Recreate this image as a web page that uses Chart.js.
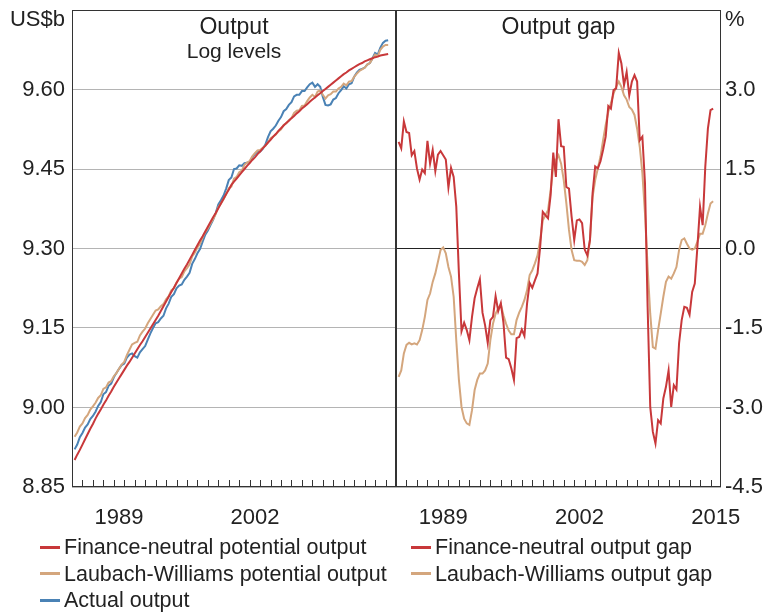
<!DOCTYPE html>
<html>
<head>
<meta charset="utf-8">
<script src="https://cdn.jsdelivr.net/npm/chart.js"></script>
<style>
  body { margin: 0; background: #fff; }
  #wrap { position: relative; width: 767px; height: 612px; font-family: 'Liberation Sans', Arial, Helvetica, sans-serif; color: #222; }
  #leftBox { position: absolute; left: 0; top: 0; }
  #rightBox { position: absolute; left: 390px; top: 0; }
  .legendCol { position: absolute; top: 534px; font-size: 21.5px; line-height: 26.5px; white-space: nowrap; }
  .legendCol span.sw { display: inline-block; width: 20px; height: 3px; margin-right: 4px; vertical-align: middle; position: relative; top: -1px; }
</style>
</head>
<body>
<div id="wrap">
  <div id="leftBox"><canvas id="leftChart" width="398" height="540"></canvas></div>
  <div id="rightBox"><canvas id="rightChart" width="377" height="540"></canvas></div>
  <div class="legendCol" id="legendLeft" style="left:40px"></div>
  <div class="legendCol" id="legendRight" style="left:411px"></div>
</div>
<script>
// quarterly data, 1985Q1 - 2015Q1
const firstYear = 1985, lastYear = 2015, lastQuarter = 1;

const fnPotential = [
  8.901, 8.911, 8.920, 8.930, 8.940, 8.950, 8.960, 8.969, 8.979, 8.988,
  8.996, 9.005, 9.013, 9.022, 9.030, 9.039, 9.047, 9.055, 9.063, 9.071,
  9.079, 9.086, 9.094, 9.102, 9.110, 9.118, 9.125, 9.133, 9.141, 9.149,
  9.157, 9.165, 9.173, 9.182, 9.191, 9.200, 9.209, 9.218, 9.226, 9.235,
  9.244, 9.253, 9.262, 9.270, 9.279, 9.288, 9.297, 9.306, 9.315, 9.323,
  9.332, 9.341, 9.350, 9.359, 9.367, 9.376, 9.385, 9.394, 9.403, 9.411,
  9.420, 9.426, 9.432, 9.438, 9.444, 9.450, 9.456, 9.461, 9.467, 9.472,
  9.478, 9.483, 9.489, 9.494, 9.500, 9.505, 9.511, 9.516, 9.522, 9.527,
  9.532, 9.537, 9.541, 9.546, 9.550, 9.555, 9.559, 9.564, 9.568, 9.572,
  9.577, 9.581, 9.585, 9.589, 9.593, 9.597, 9.601, 9.605, 9.609, 9.613,
  9.617, 9.621, 9.625, 9.629, 9.632, 9.636, 9.639, 9.642, 9.645, 9.648,
  9.650, 9.653, 9.655, 9.657, 9.659, 9.661, 9.662, 9.664, 9.665, 9.666,
  9.667
];

const lwPotential = [
  8.945, 8.953, 8.964, 8.970, 8.980, 8.986, 8.996, 9.002, 9.009, 9.018,
  9.023, 9.035, 9.038, 9.047, 9.050, 9.059, 9.065, 9.073, 9.081, 9.086,
  9.099, 9.109, 9.119, 9.122, 9.124, 9.136, 9.143, 9.149, 9.159, 9.167,
  9.175, 9.183, 9.185, 9.191, 9.195, 9.204, 9.210, 9.221, 9.225, 9.236,
  9.243, 9.246, 9.257, 9.263, 9.270, 9.285, 9.292, 9.302, 9.309, 9.321,
  9.331, 9.338, 9.347, 9.355, 9.365, 9.378, 9.385, 9.393, 9.402, 9.414,
  9.417, 9.432, 9.435, 9.444, 9.447, 9.458, 9.462, 9.465, 9.474, 9.480,
  9.485, 9.486, 9.490, 9.494, 9.500, 9.508, 9.511, 9.515, 9.521, 9.525,
  9.533, 9.536, 9.542, 9.546, 9.556, 9.560, 9.561, 9.569, 9.570, 9.578,
  9.585, 9.590, 9.586, 9.596, 9.598, 9.590, 9.583, 9.589, 9.591, 9.596,
  9.596, 9.602, 9.605, 9.611, 9.608, 9.615, 9.616, 9.624, 9.630, 9.635,
  9.638, 9.641, 9.647, 9.650, 9.658, 9.666, 9.663, 9.675, 9.681, 9.684,
  9.684
];

const actualOutput = [
  8.921, 8.930, 8.944, 8.952, 8.962, 8.968, 8.978, 8.984, 8.992, 9.003,
  9.010, 9.025, 9.029, 9.041, 9.045, 9.057, 9.065, 9.073, 9.080, 9.083,
  9.094, 9.100, 9.102, 9.097, 9.094, 9.104, 9.110, 9.116, 9.128, 9.140,
  9.150, 9.159, 9.161, 9.168, 9.173, 9.187, 9.196, 9.209, 9.214, 9.225,
  9.230, 9.232, 9.241, 9.247, 9.254, 9.271, 9.280, 9.291, 9.299, 9.313,
  9.326, 9.334, 9.344, 9.354, 9.367, 9.383, 9.391, 9.400, 9.413, 9.429,
  9.434, 9.450, 9.451, 9.457, 9.456, 9.461, 9.462, 9.463, 9.472, 9.478,
  9.483, 9.483, 9.488, 9.496, 9.510, 9.521, 9.526, 9.532, 9.541, 9.548,
  9.559, 9.563, 9.571, 9.576, 9.587, 9.590, 9.590, 9.597, 9.597, 9.604,
  9.610, 9.613, 9.605, 9.610, 9.605, 9.586, 9.571, 9.570, 9.572, 9.581,
  9.584, 9.593, 9.599, 9.606, 9.602, 9.610, 9.612, 9.624, 9.632, 9.637,
  9.639, 9.641, 9.647, 9.650, 9.659, 9.669, 9.666, 9.679, 9.688, 9.692,
  9.693
];

const fnGap = [
  2.01, 1.89, 2.40, 2.20, 2.18, 1.76, 1.84, 1.51, 1.30, 1.49,
  1.42, 2.03, 1.60, 1.86, 1.46, 1.77, 1.84, 1.76, 1.68, 1.15,
  1.52, 1.35, 0.79, -0.47, -1.56, -1.40, -1.54, -1.73, -1.29, -0.94,
  -0.75, -0.58, -1.21, -1.45, -1.78, -1.35, -1.29, -0.90, -1.18, -1.03,
  -1.40, -2.06, -2.09, -2.26, -2.48, -1.69, -1.67, -1.53, -1.65, -1.04,
  -0.65, -0.74, -0.60, -0.47, 0.03, 0.69, 0.63, 0.57, 1.01, 1.81,
  1.35, 2.44, 1.93, 1.92, 1.16, 1.13, 0.60, 0.16, 0.53, 0.55,
  0.48, -0.02, -0.13, 0.16, 1.04, 1.55, 1.51, 1.64, 1.86, 2.11,
  2.69, 2.64, 2.99, 3.02, 3.69, 3.49, 3.08, 3.33, 2.89, 3.15,
  3.27, 3.15, 2.04, 2.11, 1.23, -1.10, -2.99, -3.46, -3.68, -3.24,
  -3.30, -2.83, -2.61, -2.30, -2.99, -2.58, -2.66, -1.79, -1.35, -1.10,
  -1.12, -1.25, -0.82, -0.66, 0.03, 0.79, 0.44, 1.54, 2.26, 2.61,
  2.64
];

const lwGap = [
  -2.42, -2.30, -1.98, -1.82, -1.78, -1.81, -1.79, -1.81, -1.73, -1.54,
  -1.29, -0.97, -0.85, -0.63, -0.47, -0.25, -0.03, 0.02, -0.09, -0.35,
  -0.53, -0.91, -1.73, -2.48, -2.99, -3.21, -3.30, -3.33, -3.05, -2.67,
  -2.48, -2.36, -2.36, -2.30, -2.17, -1.73, -1.42, -1.23, -1.13, -1.06,
  -1.26, -1.42, -1.55, -1.62, -1.62, -1.35, -1.21, -1.10, -0.97, -0.79,
  -0.50, -0.41, -0.28, -0.13, 0.16, 0.53, 0.63, 0.72, 1.10, 1.54,
  1.67, 1.76, 1.60, 1.29, 0.85, 0.35, -0.03, -0.22, -0.23, -0.23,
  -0.25, -0.31, -0.22, 0.16, 0.97, 1.29, 1.51, 1.73, 2.04, 2.33,
  2.58, 2.74, 2.92, 3.05, 3.15, 3.05, 2.89, 2.81, 2.67, 2.62,
  2.52, 2.26, 1.92, 1.42, 0.66, -0.35, -1.23, -1.86, -1.89, -1.54,
  -1.23, -0.91, -0.63, -0.53, -0.57, -0.47, -0.35, -0.03, 0.16, 0.19,
  0.09, 0.00, -0.02, 0.00, 0.13, 0.28, 0.28, 0.44, 0.66, 0.85,
  0.89
];

const leftTicks = [8.85, 9.00, 9.15, 9.30, 9.45, 9.60];
const rightTicks = [-4.5, -3.0, -1.5, 0.0, 1.5, 3.0];
const leftYearLabels = [1989, 2002];
const rightYearLabels = [1989, 2002, 2015];

const RED = '#c8383a';
const TAN = '#d4a67d';
const BLUE = '#4a82b5';
const FONT = "'Liberation Sans', Arial, Helvetica, sans-serif";

Chart.defaults.font.family = FONT;
Chart.defaults.color = '#222';

// quarter categories -> decimal year at end of quarter
const quarters = [];
for (let y = firstYear; y <= lastYear; y++) {
  for (let q = 1; q <= 4; q++) {
    if (y === lastYear && q > lastQuarter) break;
    quarters.push({ label: y + 'Q' + q, x: y + q / 4 });
  }
}
const tickYears = [];
for (let y = firstYear + 1; y <= lastYear; y++) tickYears.push(y);

function points(values) {
  return values.map((v, i) => ({ x: quarters[i].x, y: v }));
}

function line(label, color, values) {
  return {
    label: label,
    data: points(values),
    borderColor: color,
    backgroundColor: color,
    borderWidth: 2,
    pointRadius: 0,
    tension: 0,
    fill: false
  };
}

// frame, inward year ticks, panel titles and unit label
const panelDecor = {
  id: 'panelDecor',
  afterDraw(chart, args, opts) {
    const ctx = chart.ctx;
    const a = chart.chartArea;
    const x = chart.scales.x;
    ctx.save();
    ctx.strokeStyle = '#333';
    ctx.lineWidth = 1;
    ctx.beginPath();
    tickYears.forEach(yr => {
      const px = Math.round(x.getPixelForValue(yr)) + 0.5;
      ctx.moveTo(px, a.bottom);
      ctx.lineTo(px, a.bottom - 7);
    });
    ctx.stroke();
    ctx.strokeRect(a.left + 0.5, a.top + 0.5, a.right - a.left - 1, a.bottom - a.top - 1);

    ctx.fillStyle = '#222';
    ctx.textBaseline = 'middle';
    ctx.textAlign = 'center';
    opts.titles.forEach(t => {
      ctx.font = t.size + 'px ' + FONT;
      ctx.fillText(t.text, (a.left + a.right) / 2, t.y);
    });
    ctx.font = '22px ' + FONT;
    ctx.textAlign = opts.unitAlign;
    ctx.fillText(opts.unit, opts.unitX, 20);
    ctx.restore();
  }
};

function xScale(years) {
  return {
    type: 'linear',
    min: firstYear,
    max: lastYear + 1,
    grid: { display: false },
    border: { display: false },
    ticks: {
      font: { size: 22 },
      color: '#222',
      padding: 10,
      maxRotation: 0,
      autoSkip: false,
      callback: v => String(Math.floor(v))
    },
    afterBuildTicks: s => { s.ticks = years.map(y => ({ value: y + 0.5 })); },
    afterFit: s => { s.height = 53; s.paddingLeft = 0; s.paddingRight = 0; }
  };
}

const leftChart = new Chart(document.getElementById('leftChart'), {
  type: 'line',
  data: {
    datasets: [
      line('Finance-neutral potential output', RED, fnPotential),
      line('Laubach-Williams potential output', TAN, lwPotential),
      line('Actual output', BLUE, actualOutput)
    ]
  },
  options: {
    responsive: false,
    animation: false,
    layout: { padding: { top: 10, right: 2, left: 0, bottom: 0 } },
    scales: {
      x: xScale(leftYearLabels),
      y: {
        min: 8.85,
        max: 9.75,
        border: { display: false },
        grid: { color: '#b4b4b4', drawTicks: false },
        ticks: {
          font: { size: 22 },
          color: '#222',
          padding: 7,
          callback: v => v.toFixed(2)
        },
        afterBuildTicks: s => { s.ticks = leftTicks.map(v => ({ value: v })); },
        afterFit: s => { s.width = 72; s.paddingTop = 0; s.paddingBottom = 0; }
      }
    },
    plugins: {
      legend: { display: false },
      tooltip: { enabled: false },
      panelDecor: {
        titles: [{ text: 'Output', size: 23, y: 28 }, { text: 'Log levels', size: 21, y: 52 }],
        unit: 'US$b',
        unitAlign: 'right',
        unitX: 65
      }
    }
  },
  plugins: [panelDecor]
});

const rightChart = new Chart(document.getElementById('rightChart'), {
  type: 'line',
  data: {
    datasets: [
      line('Finance-neutral output gap', RED, fnGap),
      line('Laubach-Williams output gap', TAN, lwGap)
    ]
  },
  options: {
    responsive: false,
    animation: false,
    layout: { padding: { top: 10, right: 0, left: 6, bottom: 0 } },
    scales: {
      x: xScale(rightYearLabels),
      y: {
        position: 'right',
        min: -4.5,
        max: 4.5,
        border: { display: false },
        grid: {
          color: c => (c.tick && c.tick.value === 0 ? '#222' : '#b4b4b4'),
          drawTicks: false
        },
        ticks: {
          font: { size: 22 },
          color: '#222',
          padding: 4,
          callback: v => v.toFixed(1)
        },
        afterBuildTicks: s => { s.ticks = rightTicks.map(v => ({ value: v })); },
        afterFit: s => { s.width = 46; s.paddingTop = 0; s.paddingBottom = 0; }
      }
    },
    plugins: {
      legend: { display: false },
      tooltip: { enabled: false },
      panelDecor: {
        titles: [{ text: 'Output gap', size: 23, y: 28 }],
        unit: '%',
        unitAlign: 'left',
        unitX: 335
      }
    }
  },
  plugins: [panelDecor]
});

// html legend built from the datasets
function buildLegend(chart, el) {
  chart.data.datasets.forEach(ds => {
    const row = document.createElement('div');
    const sw = document.createElement('span');
    sw.className = 'sw';
    sw.style.background = ds.borderColor;
    row.appendChild(sw);
    row.appendChild(document.createTextNode(ds.label));
    el.appendChild(row);
  });
}
buildLegend(leftChart, document.getElementById('legendLeft'));
buildLegend(rightChart, document.getElementById('legendRight'));
</script>
</body>
</html>
